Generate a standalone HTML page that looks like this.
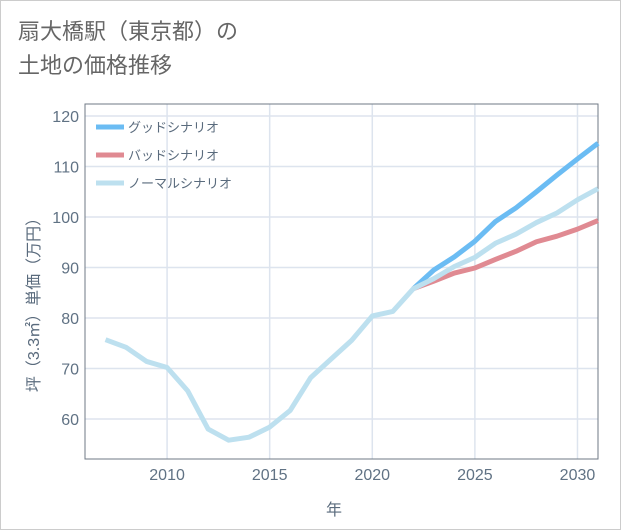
<!DOCTYPE html>
<html><head><meta charset="utf-8"><style>
body{margin:0;background:#fff;}
#wrap{position:relative;width:619px;height:528px;border:1px solid #ccc;font-family:"Liberation Sans","Noto Sans CJK JP",sans-serif;}
#title{position:absolute;left:17px;top:14px;font-size:22px;line-height:34px;color:#666;}
svg{position:absolute;left:0;top:0;}
</style></head><body>
<div id="wrap">
<div id="title">扇大橋駅（東京都）の<br>土地の価格推移</div>
<svg id="chart" width="621" height="530"></svg>
</div>
<script>
const years=[2007,2008,2009,2010,2011,2012,2013,2014,2015,2016,2017,2018,2019,2020,2021,2022,2023,2024,2025,2026,2027,2028,2029,2030,2031];
const normalVals=[75.7,74.2,71.4,70.2,65.6,58,55.8,56.4,58.4,61.7,68.2,71.9,75.6,80.4,81.3,85.8,87.8,90.2,92.0,94.8,96.6,98.9,100.8,103.4,105.6];
const goodYears=[2022,2023,2024,2025,2026,2027,2028,2029,2030,2031];
const goodVals=[85.8,89.5,92.1,95.2,99.1,101.8,105,108.3,111.5,114.6];
const badVals=[85.8,87.3,88.9,89.9,91.6,93.2,95.1,96.2,97.6,99.3];
const xTicks=[2010,2015,2020,2025,2030];
const yTicks=[60,70,80,90,100,110,120];
const seriesNames=["グッドシナリオ","バッドシナリオ","ノーマルシナリオ"];
const L=84,R=597,T=103,B=458;
const x=v=>L+(v-2006)*(R-L)/(2031-2006);
const y=v=>418-(v-60)*(418-115)/60;
const svg=document.getElementById('chart');
const NS='http://www.w3.org/2000/svg';
function mk(t,a,p){const e=document.createElementNS(NS,t);for(const k in a)e.setAttribute(k,a[k]);(p||svg).appendChild(e);return e;}
for(const t of xTicks){const l=mk('line',{x1:x(t),x2:x(t),y1:T,y2:B,stroke:'#dde4ee','stroke-width':1.5});


const tx=mk('text',{x:x(t),y:479,'text-anchor':'middle','font-size':16,fill:'#607284'});tx.textContent=t;

}
for(const t of yTicks){const l=mk('line',{x1:L,x2:R,y1:y(t),y2:y(t),stroke:'#dde4ee','stroke-width':1.5});


const tx=mk('text',{x:78,y:y(t)+6,'text-anchor':'end','font-size':16,fill:'#607284'});tx.textContent=t;

}
const fr=mk('rect',{x:L,y:T,width:R-L,height:B-T,fill:'none',stroke:'#6f7a86','stroke-width':1});


function line(xs,vs,c,name){const p=mk('polyline',{points:xs.map((yr,i)=>x(yr)+','+y(vs[i])).join(' '),fill:'none',stroke:c,'stroke-width':5,'stroke-linejoin':'round'});

}
line(goodYears,goodVals,'#6bbcf3','good-scenario-line');
line(goodYears,badVals,'#e08a92','bad-scenario-line');
line(years,normalVals,'#bde0ef','normal-scenario-line');
const cols=['#6bbcf3','#e08a92','#bde0ef'];
seriesNames.forEach((n,i)=>{const yy=126+i*28;
const g=mk('g',{});


mk('line',{x1:95,x2:123,y1:yy,y2:yy,stroke:cols[i],'stroke-width':5},g);
const t=mk('text',{x:127,y:yy+5,'font-size':13,fill:'#5a6b7d'},g);t.textContent=n;});
const xt=mk('text',{x:333,y:514,'text-anchor':'middle','font-size':16,fill:'#5a6b7d'});xt.textContent='年';


const yt=mk('text',{x:0,y:0,'text-anchor':'middle','font-size':16,fill:'#5a6b7d',transform:'translate(38,300) rotate(-90)'});yt.textContent='坪（3.3㎡）単価（万円）';


</script>
</body></html>
